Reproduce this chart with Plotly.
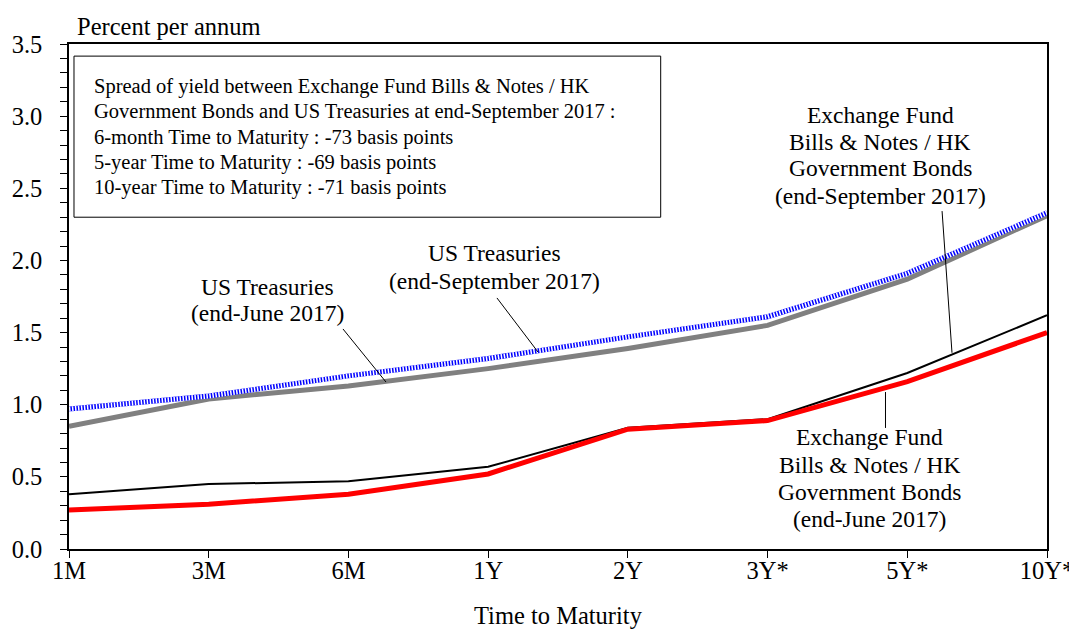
import plotly.graph_objects as go

# ---- data ----
categories = ["1M", "3M", "6M", "1Y", "2Y", "3Y*", "5Y*", "10Y*"]
us_sep = [0.97, 1.06, 1.20, 1.32, 1.47, 1.61, 1.91, 2.33]
us_jun = [0.85, 1.04, 1.13, 1.25, 1.39, 1.55, 1.87, 2.31]
ef_sep = [0.38, 0.45, 0.47, 0.57, 0.84, 0.90, 1.22, 1.62]
ef_jun = [0.27, 0.31, 0.38, 0.52, 0.83, 0.89, 1.16, 1.50]

box_lines = [
    "Spread of yield between Exchange Fund Bills & Notes / HK",
    "Government Bonds and US Treasuries at end-September 2017 :",
    "6-month Time to Maturity : -73 basis points",
    "5-year Time to Maturity : -69 basis points",
    "10-year Time to Maturity : -71 basis points",
]
box_line_y = [0.9168, 0.8663, 0.8158, 0.7653, 0.7149]

label_us_jun = ["US Treasuries", "(end-June 2017)"]
label_us_sep = ["US Treasuries", "(end-September 2017)"]
label_ef_sep = ["Exchange Fund", "Bills & Notes / HK", "Government Bonds", "(end-September 2017)"]
label_ef_jun = ["Exchange Fund", "Bills & Notes / HK", "Government Bonds", "(end-June 2017)"]

FONT = "Liberation Serif, Times New Roman, serif"

fig = go.Figure()
fig.add_trace(go.Scatter(x=categories, y=us_jun, mode="lines",
                         line=dict(color="#808080", width=5), name="US Treasuries (end-June 2017)"))
fig.add_trace(go.Scatter(x=categories, y=us_sep, mode="lines",
                         line=dict(color="#0000FF", width=5), name="US Treasuries (end-September 2017)"))
fig.add_trace(go.Scatter(x=categories, y=us_sep, mode="lines", hoverinfo="skip",
                         line=dict(color="#FFFFFF", width=5, dash="1.5px,1.5px"), showlegend=False))
fig.add_trace(go.Scatter(x=categories, y=ef_sep, mode="lines",
                         line=dict(color="#000000", width=2), name="EF (end-September 2017)"))
fig.add_trace(go.Scatter(x=categories, y=ef_jun, mode="lines",
                         line=dict(color="#FF0000", width=5), name="EF (end-June 2017)"))

# leader lines
leaders = [
    (1.961, 1.525, 2.269, 1.157),
    (3.063, 1.740, 3.357, 1.365),
    (6.249, 2.342, 6.320, 1.360),
    (5.844, 1.088, 5.844, 0.839),
]
for x0, y0, x1, y1 in leaders:
    fig.add_shape(type="line", xref="x", yref="y", x0=x0, y0=y0, x1=x1, y1=y1,
                  line=dict(color="black", width=1))

labels = [
    (1.424, [1.816, 1.636], label_us_jun),
    (3.049, [2.051, 1.857], label_us_sep),
    (5.805, [3.008, 2.821, 2.641, 2.446], label_ef_sep),
    (5.733, [0.776, 0.582, 0.395, 0.208], label_ef_jun),
]
for x, ys, lines in labels:
    for y, t in zip(ys, lines):
        fig.add_annotation(x=x, y=y, xref="x", yref="y", text=t.replace("&", "&amp;"),
                           showarrow=False,
                           font=dict(family=FONT, size=23.5, color="black"),
                           xanchor="center", yanchor="middle", align="center")

# text box
fig.add_shape(type="rect", xref="paper", yref="paper", x0=0.0051, x1=0.605, y0=0.657, y1=0.976,
              line=dict(color="black", width=1), fillcolor="white", layer="below")
for y, t in zip(box_line_y, box_lines):
    fig.add_annotation(x=0.0235, y=y, xref="paper", yref="paper",
                       text=t.replace("&", "&amp;"),
                       showarrow=False, xanchor="left", yanchor="middle", align="left",
                       font=dict(family=FONT, size=20.5, color="black"))

# axis titles
fig.add_annotation(x=0.0061, y=1.034, xref="paper", yref="paper", text="Percent per annum",
                   showarrow=False, xanchor="left", yanchor="middle",
                   font=dict(family=FONT, size=24.5, color="black"))
fig.add_annotation(x=0.5, y=-0.1307, xref="paper", yref="paper", text="Time to Maturity",
                   showarrow=False, xanchor="center", yanchor="middle",
                   font=dict(family=FONT, size=24.5, color="black"))

# page body has an 8px margin: size the figure so the plot area lands in place
fig.update_layout(
    width=1069, height=622,
    margin=dict(l=61, r=30, t=36, b=81, autoexpand=False),
    paper_bgcolor="white", plot_bgcolor="white",
    showlegend=False,
    font=dict(family=FONT, size=24, color="black"),
    xaxis=dict(type="category", range=[0, 7], showgrid=False, zeroline=False,
               showline=True, linecolor="black", linewidth=1.5, mirror=True,
               ticks="outside", ticklen=7, tickcolor="black", tickwidth=1,
               ticklabelstandoff=-8, automargin=False,
               tickfont=dict(family=FONT, size=24.5, color="black")),
    yaxis=dict(range=[0, 3.5], dtick=0.5, tickformat=".1f", showgrid=False, zeroline=False,
               showline=True, linecolor="black", linewidth=1.5, mirror=True,
               ticks="outside", ticklen=7, tickcolor="black", tickwidth=1,
               minor=dict(dtick=0.1, ticks="outside", ticklen=7, tickcolor="black", tickwidth=1),
               ticklabelstandoff=13, automargin=False,
               tickfont=dict(family=FONT, size=24.5, color="black")),
)

fig.write_html("out.html")
